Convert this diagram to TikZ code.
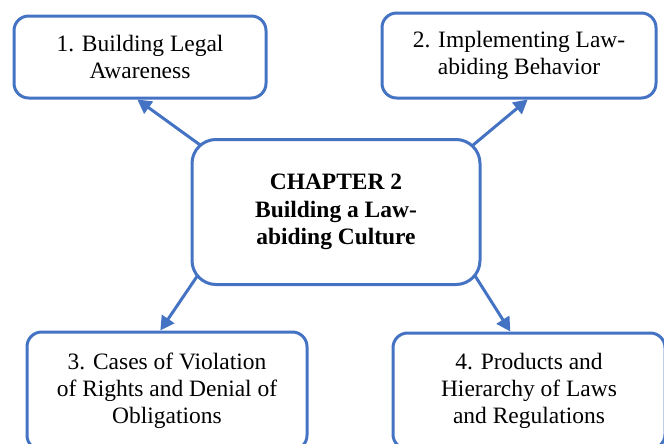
\documentclass[tikz,border=0pt]{standalone}
\usepackage{fontspec}
\setmainfont{Liberation Serif}
\usetikzlibrary{arrows.meta,backgrounds}

\begin{document}
\begin{tikzpicture}[x=0.75pt,y=-0.75pt,
   font=\fontsize{17.6}{20.3}\selectfont,
   topic/.style={draw=chapblue, line width=2.25pt, fill=white, rounded corners=11pt, align=center, inner sep=0pt},
   link/.style={chapblue, line width=2.25pt, shorten <=-10pt, -{Triangle[length=10.5pt,width=11pt]}}]
   \definecolor{chapblue}{rgb}{0.27, 0.45, 0.77}
   \useasboundingbox (0,0) rectangle (664,443);
   \node[topic, minimum width=189pt, minimum height=61.5pt] (b1) at (140,57) {1. Building Legal\\Awareness};
   \node[topic, minimum width=205.5pt, minimum height=63.75pt] (b2) at (519,55.5) {2. Implementing Law-\\abiding Behavior};
   \node[topic, minimum width=216pt, minimum height=108.75pt, rounded corners=18pt, font=\fontsize{17.6}{20.8}\selectfont\bfseries] (chap) at (336,212) {CHAPTER 2\\Building a Law-\\abiding Culture};
   \node[topic, minimum width=210pt, minimum height=88.5pt] (b3) at (167,391) {3. Cases of Violation\\of Rights and Denial of\\Obligations};
   \node[topic, minimum width=204pt, minimum height=87pt] (b4) at (529,391) {4. Products and\\Hierarchy of Laws\\and Regulations};
   \begin{scope}[on background layer]
   \draw[link] (chap.north west) -- ([xshift=-2pt]b1.south);
   \draw[link] (chap.north east) -- ([xshift=6.5pt]b2.south);
   \draw[link] (chap.south west) -- ([xshift=-5pt]b3.north);
   \draw[link] (chap.south east) -- ([xshift=-14pt]b4.north);
   \end{scope}
\end{tikzpicture}
\end{document}
